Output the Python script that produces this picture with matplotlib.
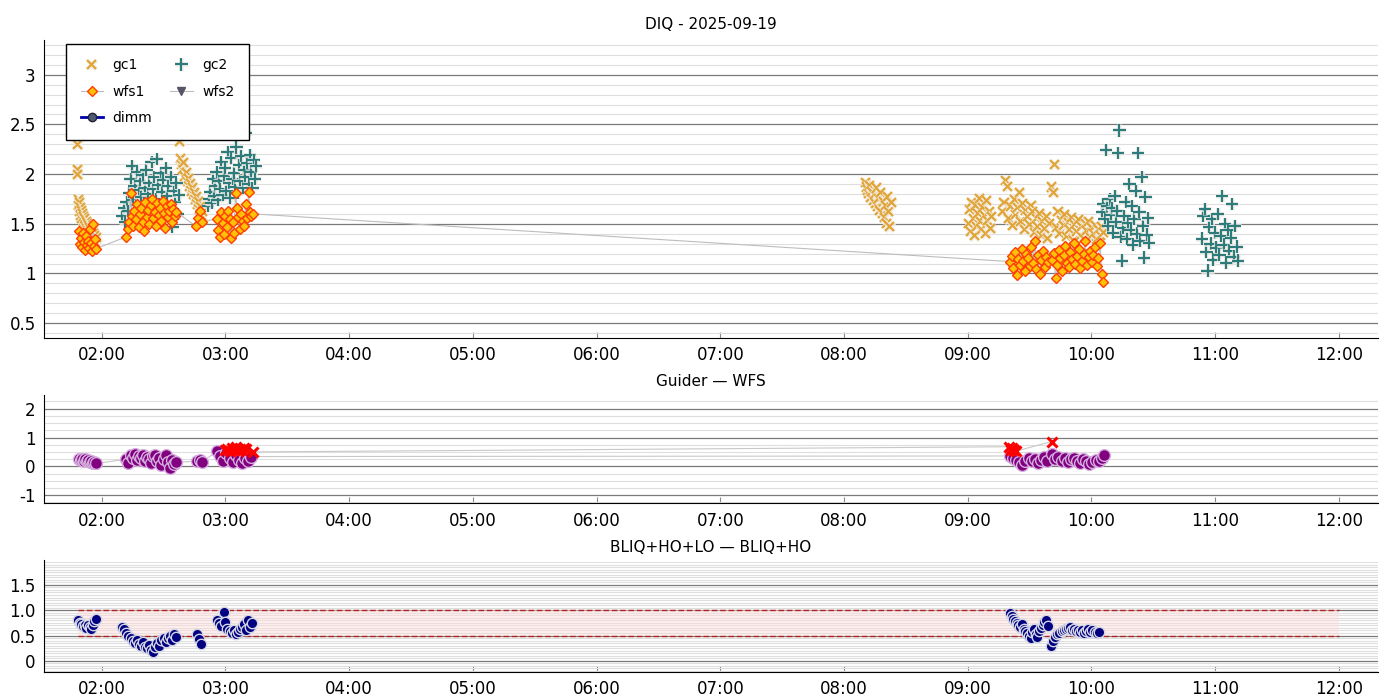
import datetime as dt
import matplotlib
matplotlib.use("Agg")
import matplotlib.pyplot as plt
import matplotlib.dates as mdates
import matplotlib.patheffects as pe
from matplotlib.ticker import MultipleLocator, FuncFormatter

plt.rcParams["axes.unicode_minus"] = False

# times are minutes after 00:00 UT on the night date
NIGHT = dt.datetime(2025, 9, 19)

# ---- DIQ panel ----
gc1_t = [108.3, 108.4, 108.5,
         108.6, 108.9, 109.1, 109.4, 109.6, 109.9, 110.2, 110.4, 110.7, 111.0, 111.3, 111.5, 111.8, 112.1, 112.4, 112.7,
         113.0, 113.3, 113.6, 113.9, 114.2, 114.5, 114.8, 115.1, 115.4, 115.7, 116.0, 116.3, 116.6, 117.0, 117.4,
         157.9, 158.4, 158.9, 159.4, 159.9, 160.4, 160.9, 161.4, 161.9, 162.4, 162.9, 163.4, 163.9, 164.4, 164.9,
         165.4, 165.9, 166.4, 166.9, 167.4, 167.9, 168.4, 168.9,
         490.2, 490.8, 491.3, 491.9, 492.4, 493.0, 493.5, 494.1, 494.6, 495.2, 495.7, 496.3, 496.8, 497.4, 497.9,
         498.5, 499.0, 499.6, 500.1, 500.7, 501.2, 501.8, 502.3, 502.9,
         540.2, 540.8, 541.4, 542.0, 542.6, 543.2, 543.8, 544.4, 545.0, 545.6, 546.2, 546.8, 547.4, 548.0, 548.6,
         549.2, 549.8, 550.4, 551.0, 551.6,
         556.8, 557.6, 558.4, 559.2, 560.0, 560.9, 561.7, 562.5, 563.3, 564.1, 565.0, 565.8, 566.6, 567.4, 568.2,
         569.1, 569.9, 570.7, 571.5, 572.3, 573.2, 574.0, 574.8, 575.6, 576.4, 577.3, 578.1, 578.9, 579.7, 580.5,
         581.4, 582.2, 583.0, 583.8, 584.6, 585.5, 586.3, 587.1, 587.9, 588.7, 589.6, 590.4, 591.2, 592.0, 592.8,
         593.7, 594.5, 595.3, 596.1, 596.9, 597.8, 598.6, 599.4, 600.2, 601.0, 601.9, 602.7, 603.5, 604.3, 605.1, 606.0]
gc1_v = [2.30, 2.05, 2.00,
         1.74, 1.68, 1.71, 1.62, 1.66, 1.58, 1.63, 1.55, 1.60, 1.52, 1.57, 1.49, 1.55, 1.47, 1.52, 1.45,
         1.50, 1.43, 1.48, 1.41, 1.46, 1.39, 1.44, 1.37, 1.42, 1.35, 1.40, 1.33, 1.38, 1.30, 1.36,
         2.33, 2.16, 2.10, 2.05, 2.12, 1.98, 2.02, 1.93, 1.96, 1.88, 1.91, 1.83, 1.86, 1.79, 1.81,
         1.74, 1.77, 1.69, 1.72, 1.64, 1.67, 1.58, 1.62,
         1.92, 1.87, 1.84, 1.80, 1.89, 1.76, 1.82, 1.73, 1.79, 1.70, 1.86, 1.67, 1.75, 1.63, 1.81,
         1.60, 1.72, 1.56, 1.68, 1.50, 1.77, 1.62, 1.47, 1.71,
         1.50, 1.64, 1.42, 1.71, 1.55, 1.38, 1.68, 1.47, 1.60, 1.75, 1.52, 1.44, 1.66, 1.58, 1.40,
         1.73, 1.53, 1.62, 1.45, 1.57,
         1.62, 1.71, 1.94, 1.88, 1.55, 1.67, 1.48, 1.74, 1.59, 1.66, 1.81, 1.52, 1.70, 1.44, 1.63,
         1.57, 1.49, 1.68, 1.62, 1.41, 1.55, 1.47, 1.60, 1.38, 1.52, 1.45, 1.57, 1.35, 1.50, 1.87,
         1.81, 2.10, 1.46, 1.62, 1.40, 1.53, 1.48, 1.59, 1.37, 1.51, 1.44, 1.56, 1.33, 1.49, 1.42,
         1.54, 1.38, 1.47, 1.35, 1.50, 1.43, 1.52, 1.36, 1.46, 1.40, 1.48, 1.34, 1.44, 1.38, 1.47, 1.41]

gc2_t = [130.0, 130.8, 131.5, 132.1, 132.8, 133.4, 134.0, 134.7, 135.3, 136.0, 136.6, 137.2, 137.9, 138.5, 139.1,
         139.8, 140.4, 141.0, 141.7, 142.3, 142.9, 143.6, 144.2, 144.8, 145.5, 146.1, 146.7, 147.4, 148.0, 148.6,
         149.3, 149.9, 150.5, 151.2, 151.8, 152.4, 153.1, 153.7, 154.3, 155.0, 155.6, 156.2, 156.9, 157.5,
         171.5, 172.1, 172.7, 173.3, 173.9, 174.5, 175.1, 175.7, 176.3, 176.9, 177.5, 178.1, 178.7, 179.3, 179.9,
         180.5, 181.1, 181.7, 182.3, 182.9, 183.5, 184.1, 184.7, 185.3, 185.9, 186.5, 187.1, 187.7, 188.3, 188.9,
         189.5, 190.1, 190.7, 191.3, 191.9, 192.5, 193.1, 193.7, 194.3, 194.9,
         605.2, 605.8, 606.4, 607.0, 607.6, 608.2, 608.8, 609.4, 610.0, 610.6, 611.2, 611.8, 612.4, 613.0, 613.6,
         614.2, 614.8, 615.4, 616.0, 616.6, 617.2, 617.8, 618.4, 619.0, 619.6, 620.2, 620.8, 621.4, 622.0, 622.6,
         623.2, 623.8, 624.4, 625.0, 625.6, 626.2, 626.8, 627.4, 628.0,
         653.6, 654.3, 655.0, 655.7, 656.4, 657.1, 657.8, 658.5, 659.2, 659.9, 660.6, 661.3, 662.0, 662.7, 663.4,
         664.1, 664.8, 665.5, 666.2, 666.9, 667.6, 668.3, 669.0, 669.7, 670.4, 671.0]
gc2_v = [1.58, 1.66, 1.52, 1.72, 1.63, 1.81, 1.95, 2.08, 1.74, 1.88, 1.69, 2.02, 1.84, 1.93, 1.77,
         1.99, 1.71, 1.86, 2.04, 1.80, 1.91, 1.66, 2.12, 1.85, 1.97, 1.75, 2.15, 1.89, 1.70, 2.01,
         1.82, 1.94, 1.62, 2.06, 1.78, 1.88, 1.55, 1.97, 1.47, 1.83, 1.72, 1.91, 1.60, 1.79,
         1.68, 1.75, 1.82, 1.71, 1.95, 1.78, 1.88, 2.02, 1.74, 1.93, 1.85, 2.12, 1.79, 1.98, 2.06,
         1.83, 2.22, 1.91, 1.76, 2.16, 1.95, 2.01, 1.87, 2.27, 1.81, 2.09, 1.93, 2.18, 1.86, 2.04,
         1.97, 2.41, 2.11, 1.90, 2.19, 2.02, 1.86, 2.14, 1.95, 2.08,
         1.62, 1.70, 1.55, 2.24, 1.68, 1.48, 1.75, 1.59, 1.66, 1.41, 1.78, 1.52, 1.63, 2.21, 2.44,
         1.37, 1.13, 1.46, 1.58, 1.72, 1.35, 1.51, 1.90, 1.44, 1.68, 1.29, 1.55, 1.83, 1.40, 2.21,
         1.62, 1.33, 1.97, 1.48, 1.16, 1.77, 1.39, 1.56, 1.31,
         1.35, 1.58, 1.65, 1.22, 1.03, 1.47, 1.30, 1.55, 1.14, 1.41, 1.26, 1.60, 1.19, 1.38, 1.78,
         1.29, 1.50, 1.11, 1.44, 1.23, 1.36, 1.70, 1.17, 1.48, 1.27, 1.13]

wfs1_t = [108.8, 109.3, 109.8, 110.3, 110.8, 111.3, 111.8, 112.3, 112.8, 113.3, 113.8, 114.3, 114.8, 115.3, 115.8,
          116.3, 116.8, 117.3,
          132.0, 132.7, 133.3, 134.0, 134.6, 135.3, 135.9, 136.6, 137.2, 137.9, 138.5, 139.2, 139.8, 140.5, 141.1,
          141.8, 142.4, 143.1, 143.7, 144.4, 145.0, 145.7, 146.3, 147.0, 147.6, 148.3, 148.9, 149.6, 150.2, 150.9,
          151.5, 152.2, 152.8, 153.5, 154.1, 154.8, 155.4, 156.0,
          165.5, 166.5, 167.5, 168.5,
          175.8, 176.5, 177.2, 177.9, 178.6, 179.3, 180.0, 180.7, 181.4, 182.1, 182.8, 183.5, 184.2, 184.9, 185.6,
          186.3, 187.0, 187.7, 188.4, 189.1, 189.8, 190.5, 191.2, 191.9, 192.6, 193.2,
          560.5, 561.3, 562.1, 562.9, 563.7, 564.5, 565.3, 566.1, 566.9, 567.7, 568.5, 569.3, 570.1, 570.9, 571.7,
          572.5, 573.3, 574.1, 574.9, 575.7, 576.5, 577.3, 578.1, 578.9,
          581.0, 581.8, 582.6, 583.4, 584.2, 585.0, 585.8, 586.6, 587.4, 588.2, 589.0, 589.8, 590.6, 591.4, 592.2,
          593.0, 593.8, 594.6, 595.4, 596.2, 597.0, 597.8, 598.6, 599.4, 600.2, 601.0, 601.8, 602.6, 603.4, 604.2,
          605.0, 605.8]
wfs1_v = [1.43, 1.30, 1.36, 1.27, 1.41, 1.32, 1.24, 1.38, 1.29, 1.33, 1.26, 1.45, 1.31, 1.23, 1.50,
          1.28, 1.35, 1.25,
          1.37, 1.45, 1.52, 1.81, 1.58, 1.48, 1.63, 1.55, 1.70, 1.47, 1.60, 1.66, 1.52, 1.43, 1.72,
          1.57, 1.64, 1.50, 1.69, 1.75, 1.56, 1.62, 1.48, 1.71, 1.59, 1.66, 1.53, 1.73, 1.61, 1.46,
          1.68, 1.57, 1.63, 1.70, 1.52, 1.65, 1.58, 1.62,
          1.48, 1.56, 1.63, 1.52,
          1.55, 1.44, 1.37, 1.62, 1.51, 1.40, 1.58, 1.47, 1.63, 1.55, 1.36, 1.52, 1.41, 1.81, 1.66,
          1.57, 1.45, 1.60, 1.53, 1.48, 1.70, 1.56, 1.82, 1.62, 1.58, 1.60,
          1.12, 1.18, 1.06, 1.22, 0.98, 1.15, 1.09, 1.25, 1.13, 1.03, 1.20, 1.16, 1.08, 1.27, 1.11,
          1.33, 1.05, 1.19, 0.99, 1.14, 1.23, 1.07, 1.17, 1.12,
          1.14, 1.21, 0.95, 1.09, 1.24, 1.16, 1.03, 1.19, 1.28, 1.11, 1.07, 1.22, 1.15, 1.31, 1.10,
          1.18, 1.25, 1.06, 1.13, 1.20, 1.33, 1.09, 1.17, 1.23, 1.12, 1.19, 1.27, 1.08, 1.16, 1.31,
          0.99, 0.91]

wfs2_t, wfs2_v = [], []
dimm_t, dimm_v = [], []

# ---- Guider - WFS panel ----
gw_t = [109.0, 109.8, 110.5, 111.2, 112.0, 112.8, 113.5, 114.2, 115.0, 115.8, 116.5, 117.3,
        132.0, 133.0, 134.0, 135.0, 136.0, 137.0, 138.0, 139.0, 140.0, 141.0, 142.0, 143.0, 144.0, 145.0,
        146.0, 147.0, 148.0, 149.0, 150.0, 151.0, 152.0, 153.0, 154.0, 155.0, 156.0,
        166.0, 167.5, 168.5,
        176.0, 177.5, 179.0, 180.5, 182.0, 183.5, 185.0, 186.5, 188.0, 189.5, 191.0, 192.5,
        560.5, 562.0, 563.5, 565.0, 566.5, 568.0, 569.5, 571.0, 572.5, 574.0, 575.5, 577.0, 578.5, 581.0,
        582.5, 584.0, 585.5, 587.0, 588.5, 590.0, 591.5, 593.0, 594.5, 596.0, 597.5, 599.0, 600.5, 602.0,
        603.5, 605.0, 606.0]
gw_v = [0.25, 0.22, 0.27, 0.20, 0.24, 0.18, 0.22, 0.15, 0.20, 0.12, 0.16, 0.10,
        0.25, 0.10, 0.38, 0.30, 0.42, 0.22, 0.35, 0.28, 0.40, 0.18, 0.32, 0.25, 0.12, 0.36,
        0.41, 0.20, 0.30, 0.05, 0.26, 0.38, 0.15, -0.05, 0.22, 0.08, 0.14,
        0.18, 0.22, 0.15,
        0.52, 0.35, 0.18, 0.45, 0.30, 0.15, 0.40, 0.22, 0.12, 0.28, 0.20, 0.34,
        0.36, 0.28, 0.22, 0.15, 0.05, 0.20, 0.30, 0.18, 0.26, 0.12, 0.22, 0.31, 0.17, 0.42,
        0.25, 0.33, 0.20, 0.28, 0.14, 0.24, 0.30, 0.18, 0.12, 0.26, 0.20, 0.08, 0.15, 0.22,
        0.18, 0.30, 0.40]

gw2_t = [179.8, 181.0, 182.0, 183.0, 184.0, 185.0, 186.0, 187.0, 188.0, 189.0, 190.0, 193.2,
         560.0, 560.8, 561.6, 562.4, 563.5, 580.8]
gw2_v = [0.55, 0.60, 0.52, 0.62, 0.58, 0.66, 0.54, 0.61, 0.57, 0.63, 0.59, 0.50,
         0.68, 0.56, 0.62, 0.58, 0.53, 0.86]

# ---- BLIQ+HO+LO - BLIQ+HO panel ----
bl_t = [108.5, 109.3, 110.1, 110.9, 111.7, 112.5, 113.3, 114.1, 114.9, 115.7, 116.5, 117.3,
        130.0, 131.0, 132.0, 133.0, 134.0, 135.0, 136.0, 137.0, 138.0, 139.0, 140.0, 141.0, 142.0, 143.0,
        144.0, 145.0, 146.0, 147.0, 148.0, 149.0, 150.0, 151.0, 152.0, 153.0, 154.0, 155.0, 156.0,
        166.0, 167.0, 168.0,
        176.0, 177.0, 178.0, 179.2, 180.0, 181.0, 182.0, 183.0, 184.0, 185.0, 186.0, 187.0, 188.0, 189.0,
        190.0, 191.0, 192.0, 193.0,
        560.5, 561.3, 562.1, 563.0, 563.8, 564.6, 565.5, 566.3, 567.1, 568.0, 568.8, 569.6, 570.5, 571.3,
        572.1, 573.0, 573.8, 574.6, 575.5, 576.3, 577.1, 578.0, 579.0, 580.3, 581.5, 582.5, 583.5, 584.5,
        585.5, 586.5, 587.5, 588.5, 589.5, 590.5, 591.5, 592.5, 593.5, 594.5, 595.5, 596.5, 597.5, 598.5,
        599.5, 600.5, 601.5, 602.5, 603.5]
bl_v = [0.80, 0.75, 0.72, 0.68, 0.70, 0.65, 0.71, 0.66, 0.62, 0.70, 0.78, 0.83,
        0.66, 0.62, 0.55, 0.50, 0.45, 0.40, 0.36, 0.42, 0.33, 0.30, 0.38, 0.28, 0.25, 0.32,
        0.22, 0.18, 0.28, 0.35, 0.30, 0.42, 0.46, 0.38, 0.45, 0.50, 0.42, 0.52, 0.48,
        0.52, 0.44, 0.33,
        0.80, 0.74, 0.69, 0.97, 0.76, 0.62, 0.58, 0.55, 0.60, 0.52, 0.57, 0.63, 0.66, 0.72,
        0.60, 0.81, 0.67, 0.75,
        0.95, 0.88, 0.82, 0.78, 0.75, 0.70, 0.66, 0.72, 0.62, 0.58, 0.55, 0.50, 0.45, 0.56,
        0.62, 0.52, 0.48, 0.58, 0.65, 0.70, 0.76, 0.80, 0.68, 0.29, 0.40, 0.47, 0.52, 0.55,
        0.58, 0.60, 0.62, 0.64, 0.66, 0.60, 0.63, 0.58, 0.61, 0.57, 0.60, 0.55, 0.58, 0.62,
        0.56, 0.60, 0.57, 0.55, 0.56]
band_lo, band_hi = 0.5, 1.0
band_start, band_end = 108.5, 720.0


def tm(mins):
    return [NIGHT + dt.timedelta(minutes=m) for m in mins]


def pair(ts, vs):
    n = min(len(ts), len(vs))
    return tm(ts[:n]), vs[:n]


def style_axis(ax, major, minor, fmt):
    for s in ["top", "right"]:
        ax.spines[s].set_visible(False)
    ax.spines["left"].set_color("black")
    ax.spines["bottom"].set_color("black")
    ax.yaxis.set_major_locator(MultipleLocator(major))
    ax.yaxis.set_minor_locator(MultipleLocator(minor))
    ax.yaxis.set_major_formatter(FuncFormatter(fmt))
    ax.grid(True, axis="y", which="major", color="#7a7a7a", lw=0.9, zorder=0)
    ax.grid(True, axis="y", which="minor", color="#dedede", lw=0.8, zorder=0)
    ax.set_axisbelow(True)
    ax.tick_params(axis="y", which="both", length=0, labelsize=12, pad=6)
    ax.tick_params(axis="x", which="major", direction="in", length=4, color="#888888",
                   labelsize=12, pad=6)
    ax.tick_params(axis="x", which="minor", length=0)
    ax.xaxis.set_major_locator(mdates.HourLocator())
    ax.xaxis.set_major_formatter(mdates.DateFormatter("%H:%M"))
    ax.set_xlim(NIGHT + dt.timedelta(minutes=92), NIGHT + dt.timedelta(minutes=739))


def g_fmt(v, pos):
    return "%g" % round(v, 3)


def one_dec(v, pos):
    return "0" if abs(v) < 1e-9 else "%.1f" % v


fig = plt.figure(figsize=(14, 7), dpi=100)
ax1 = fig.add_axes([0.0314, 0.517, 0.9529, 0.426])
ax2 = fig.add_axes([0.0314, 0.281, 0.9529, 0.155])
ax3 = fig.add_axes([0.0314, 0.040, 0.9529, 0.160])

halo_x = [pe.withStroke(linewidth=3.6, foreground="#f4f0ea", alpha=0.8)]

# gc1 / gc2 drawn point by point so each halo lies over the earlier marks
x, y = pair(gc1_t, gc1_v)
for i, (a, b) in enumerate(zip(x, y)):
    ax1.plot([a], [b], ls="none", marker="x", ms=6.5, mew=1.6, color="#e0a437",
             path_effects=halo_x, label="gc1" if i == 0 else None, zorder=3)
x, y = pair(gc2_t, gc2_v)
for i, (a, b) in enumerate(zip(x, y)):
    ax1.plot([a], [b], ls="none", marker="+", ms=9, mew=1.6, color="#2e7b7b",
             path_effects=halo_x, label="gc2" if i == 0 else None, zorder=3)

x, y = pair(wfs1_t, wfs1_v)
ax1.plot(x, y, color="#bdbdbd", lw=0.8, marker="D", ms=5.5, mfc="#ffc107", mec="#ff3d00",
         mew=1.0, label="wfs1", zorder=4)
x, y = pair(wfs2_t, wfs2_v)
ax1.plot(x, y, color="#bdbdbd", lw=0.8, marker="v", ms=6, mfc="#555566", mec="#555566", label="wfs2")
x, y = pair(dimm_t, dimm_v)
ax1.plot(x, y, color="#0000aa", lw=2, marker="o", ms=6, mfc="#4d5a73", mec="#222233", label="dimm")

h, l = ax1.get_legend_handles_labels()
order = [l.index(k) for k in ["gc1", "wfs1", "dimm", "gc2", "wfs2"]]
leg = ax1.legend([h[i] for i in order], [l[i] for i in order], ncol=2, loc="upper left",
                 bbox_to_anchor=(0.0165, 0.987), borderaxespad=0, fontsize=10, frameon=True,
                 fancybox=False, framealpha=1, edgecolor="black", borderpad=1.05,
                 labelspacing=0.9, columnspacing=1.3, handlelength=1.6, handletextpad=0.7)
leg.get_frame().set_linewidth(1.0)
leg.set_zorder(10)

ax1.set_ylim(0.35, 3.35)
style_axis(ax1, 0.5, 0.1, g_fmt)
ax1.set_title("DIQ - 2025-09-19", fontsize=11, pad=8)

x, y = pair(gw_t, gw_v)
ax2.plot(x, y, color="#c8c8c8", lw=0.8, marker="o", ms=8.5, mfc="#800080", mec="#d6aede",
         mew=1.0, zorder=3)
x, y = pair(gw2_t, gw2_v)
ax2.plot(x, y, color="#c8c8c8", lw=0.8, marker="x", ms=6.5, mew=2.2, mec="#ff0000", zorder=4)
ax2.set_ylim(-1.28, 2.48)
style_axis(ax2, 1, 0.25, g_fmt)
ax2.set_title("Guider \u2014 WFS", fontsize=11, pad=6)

bs, be = tm([band_start, band_end])
ax3.fill_between([bs, be], band_lo, band_hi, color="#ffdada", alpha=0.45, lw=0, zorder=1)
ax3.hlines([band_lo, band_hi], bs, be, colors="#b22222", linestyles=(0, (4, 2)), lw=1.0, zorder=2)
x, y = pair(bl_t, bl_v)
ax3.plot(x, y, ls="none", marker="o", ms=7.5, mfc="#000080", mec="#d4d6e4", mew=1.0, zorder=3)
ax3.set_ylim(-0.22, 1.99)
style_axis(ax3, 0.5, 0.05, one_dec)
ax3.set_title("BLIQ+HO+LO \u2014 BLIQ+HO", fontsize=11, pad=6)

fig.savefig("out.png", dpi=100)
